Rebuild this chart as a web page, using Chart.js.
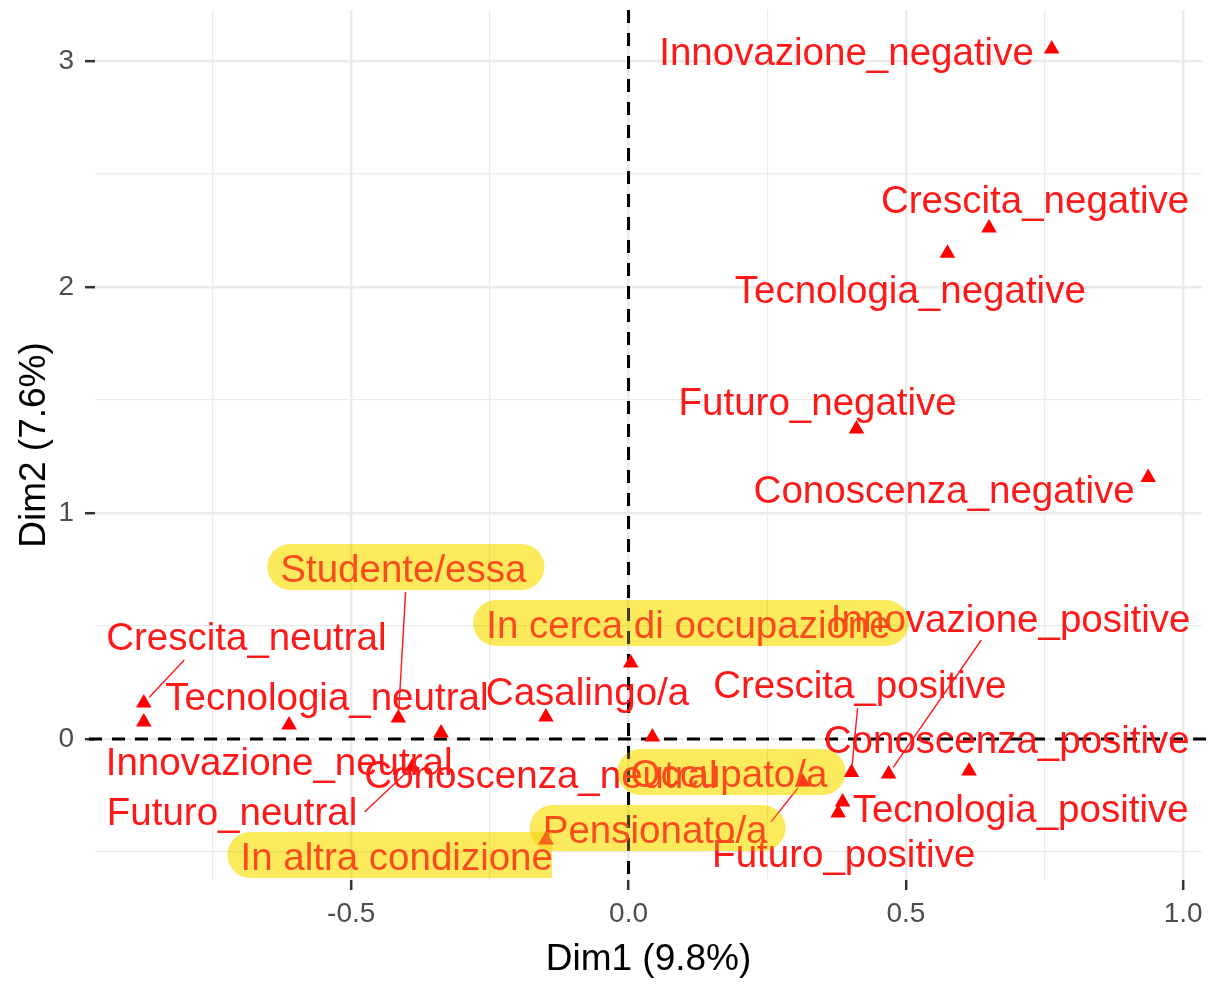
<!DOCTYPE html>
<html>
<head>
<meta charset="utf-8">
<title>MCA - Dim1 / Dim2</title>
<script src="https://cdn.jsdelivr.net/npm/chart.js@4"></script>
<style>
  html, body { margin: 0; padding: 0; background: #ffffff; }
  #wrap { position: relative; width: 1211px; height: 984px; }
</style>
</head>
<body>
<div id="wrap"><canvas id="mcaChart"></canvas></div>
<script>
// --- DATA ---
const categories = [
    'Innovazione_negative', 'Crescita_negative', 'Tecnologia_negative', 'Futuro_negative', 'Conoscenza_negative',
    'Innovazione_positive', 'Crescita_positive', 'Conoscenza_positive', 'Tecnologia_positive', 'Futuro_positive',
    'Crescita_neutral', 'Innovazione_neutral', 'Tecnologia_neutral', 'Conoscenza_neutral', 'Futuro_neutral',
    'Studente/essa', 'In cerca di occupazione', 'Casalingo/a', 'Occupato/a', 'Pensionato/a', 'In altra condizione'
];
const dim1 = [
    0.763, 0.650, 0.575, 0.411, 0.937,
    0.469, 0.402, 0.614, 0.386, 0.378,
    -0.874, -0.874, -0.612, -0.338, -0.390,
    -0.415, 0.004, -0.149, 0.043, 0.314, -0.149
];
const dim2 = [
    3.053, 2.261, 2.150, 1.372, 1.157,
    -0.155, -0.148, -0.142, -0.279, -0.327,
    0.159, 0.075, 0.062, 0.026, -0.124,
    0.093, 0.336, 0.097, 0.009, -0.190, -0.447
];
const xTickValues = [-0.5, 0.0, 0.5, 1.0];
const yTickValues = [0, 1, 2, 3];
const xTitle = 'Dim1 (9.8%)';
const yTitle = 'Dim2 (7.6%)';

// --- LAYOUT (posizione delle etichette, in coordinate dei dati, stile ggrepel) ---
const labelX = [
    0.393, 0.733, 0.508, 0.341, 0.569,
    0.689, 0.417, 0.682, 0.707, 0.388,
    -0.689, -0.630, -0.544, -0.158, -0.715,
    -0.406, 0.108, -0.074, 0.181, 0.048, -0.418
];
const labelY = [
    2.982, 2.327, 1.929, 1.434, 1.044,
    0.473, 0.181, -0.062, -0.367, -0.566,
    0.394, -0.159, 0.128, -0.217, -0.381,
    0.695, 0.447, 0.150, -0.212, -0.460, -0.580
];
// segmenti etichetta -> punto (indice, partenza in coordinate dei dati)
const segments = [
    { i: 10, x: -0.801, y: 0.350 },
    { i: 15, x: -0.402, y: 0.650 },
    { i: 14, x: -0.476, y: -0.323 },
    { i: 5,  x: 0.636,  y: 0.438 },
    { i: 6,  x: 0.413,  y: 0.137 },
    { i: 19, x: 0.257,  y: -0.367 }
];
// etichette evidenziate con il pennarello giallo
const highlighted = ['Studente/essa', 'In cerca di occupazione', 'Occupato/a', 'Pensionato/a', 'In altra condizione'];
const squareRight = ['In altra condizione'];

const RED = 'rgb(255,24,24)';
const LABEL_FONT = '38.5px "Liberation Sans", Arial, sans-serif';

const isMajor = (v, list) => list.some(t => Math.abs(t - v) < 1e-9);

/**
 * Linee tratteggiate sugli assi x=0 e y=0
 */
const zeroLines = {
    id: 'zeroLines',
    beforeDatasetsDraw(chart) {
        const { ctx, chartArea: a, scales: { x, y } } = chart;
        const px = x.getPixelForValue(0);
        const py = y.getPixelForValue(0);
        ctx.save();
        ctx.strokeStyle = '#000000';
        ctx.lineWidth = 3;
        ctx.setLineDash([13, 10]);
        ctx.beginPath();
        ctx.moveTo(a.left - 6, py);
        ctx.lineTo(a.right + 4, py);
        ctx.moveTo(px, a.top);
        ctx.lineTo(px, a.bottom);
        ctx.stroke();
        ctx.restore();
    }
};

function pillPath(ctx, x0, x1, yTop, yBot, square) {
    const r = (yBot - yTop) / 2;
    ctx.beginPath();
    ctx.moveTo(x0 + r, yTop);
    if (square) {
        ctx.lineTo(x1, yTop);
        ctx.lineTo(x1, yBot);
    } else {
        ctx.lineTo(x1 - r, yTop);
        ctx.arc(x1 - r, yTop + r, r, -Math.PI / 2, Math.PI / 2);
    }
    ctx.lineTo(x0 + r, yBot);
    ctx.arc(x0 + r, yTop + r, r, Math.PI / 2, Math.PI * 1.5);
    ctx.closePath();
}

/**
 * Etichette, segmenti e evidenziatore
 */
const textLabels = {
    id: 'textLabels',
    afterDatasetsDraw(chart) {
        const { ctx, scales: { x, y } } = chart;
        ctx.save();

        // segmenti
        ctx.strokeStyle = RED;
        ctx.lineWidth = 1.4;
        segments.forEach(s => {
            const x0 = x.getPixelForValue(s.x), y0 = y.getPixelForValue(s.y);
            const x1 = x.getPixelForValue(dim1[s.i]), y1 = y.getPixelForValue(dim2[s.i]);
            const len = Math.hypot(x1 - x0, y1 - y0);
            const k = Math.max(0, (len - 8) / len);
            ctx.beginPath();
            ctx.moveTo(x0, y0);
            ctx.lineTo(x0 + (x1 - x0) * k, y0 + (y1 - y0) * k);
            ctx.stroke();
        });

        // testo
        ctx.font = LABEL_FONT;
        ctx.fillStyle = RED;
        ctx.textAlign = 'center';
        ctx.textBaseline = 'alphabetic';
        const boxes = [];
        categories.forEach((name, i) => {
            const px = x.getPixelForValue(labelX[i]);
            const py = y.getPixelForValue(labelY[i]);
            ctx.fillText(name, px, py);
            if (highlighted.includes(name)) {
                const w = ctx.measureText(name).width;
                const sq = squareRight.includes(name);
                boxes.push({ x0: px - w / 2 - 13, x1: sq ? px + w / 2 - 1 : px + w / 2 + 18, yTop: py - 38, yBot: py + 8, sq });
            }
        });

        // evidenziatore giallo sopra il testo
        boxes.forEach(b => {
            ctx.globalCompositeOperation = 'multiply';
            ctx.fillStyle = 'rgb(250,234,92)';
            pillPath(ctx, b.x0, b.x1, b.yTop, b.yBot, b.sq);
            ctx.fill();
            ctx.globalCompositeOperation = 'source-over';
            ctx.fillStyle = 'rgba(250,234,92,0.25)';
            pillPath(ctx, b.x0, b.x1, b.yTop, b.yBot, b.sq);
            ctx.fill();
        });
        ctx.restore();
    }
};

function initChart() {
    const ctx = document.getElementById('mcaChart');
    const points = dim1.map((v, i) => ({ x: v, y: dim2[i] }));

    new Chart(ctx, {
        type: 'scatter',
        data: {
            labels: categories,
            datasets: [{
                data: points,
                pointStyle: 'triangle',
                pointRadius: 9,
                pointBorderWidth: 0,
                backgroundColor: 'rgb(255,0,0)',
                borderColor: 'rgb(255,0,0)'
            }]
        },
        options: {
            responsive: true,
            maintainAspectRatio: false,
            animation: false,
            layout: { padding: { top: 10, right: 4, left: 0, bottom: 0 } },
            plugins: { legend: { display: false }, tooltip: { enabled: false } },
            scales: {
                x: {
                    type: 'linear',
                    min: -0.962,
                    max: 1.034,
                    border: { display: false },
                    afterFit: s => { s.height = 104; s.paddingLeft = 0; s.paddingRight = 0; },
                    grid: {
                        color: '#EBEBEB',
                        lineWidth: c => isMajor(c.tick.value, xTickValues) ? 2.4 : 1.2,
                        tickColor: c => isMajor(c.tick.value, xTickValues) ? '#333333' : 'rgba(0,0,0,0)',
                        tickWidth: 2.5,
                        tickLength: 10
                    },
                    ticks: {
                        stepSize: 0.25,
                        includeBounds: false,
                        autoSkip: false,
                        maxRotation: 0,
                        padding: 7,
                        color: '#4D4D4D',
                        font: { family: '"Liberation Sans", Arial, sans-serif', size: 28 },
                        callback: v => isMajor(v, xTickValues) ? v.toFixed(1) : ''
                    },
                    title: {
                        display: true,
                        text: xTitle,
                        color: '#000000',
                        padding: { top: 0, bottom: 2 },
                        font: { family: '"Liberation Sans", Arial, sans-serif', size: 37, lineHeight: 1.2 }
                    }
                },
                y: {
                    type: 'linear',
                    min: -0.624,
                    max: 3.226,
                    border: { display: false },
                    afterFit: s => { s.width = 95; s.paddingTop = 0; s.paddingBottom = 0; },
                    grid: {
                        color: '#EBEBEB',
                        lineWidth: c => isMajor(c.tick.value, yTickValues) ? 2.4 : 1.2,
                        tickColor: c => isMajor(c.tick.value, yTickValues) ? '#333333' : 'rgba(0,0,0,0)',
                        tickWidth: 2.5,
                        tickLength: 10
                    },
                    ticks: {
                        stepSize: 0.5,
                        includeBounds: false,
                        autoSkip: false,
                        padding: 11,
                        color: '#4D4D4D',
                        font: { family: '"Liberation Sans", Arial, sans-serif', size: 28 },
                        callback: v => isMajor(v, yTickValues) ? String(v) : ''
                    },
                    title: {
                        display: true,
                        text: yTitle,
                        color: '#000000',
                        padding: { top: 13, bottom: 0 },
                        font: { family: '"Liberation Sans", Arial, sans-serif', size: 37, lineHeight: 1.2 }
                    }
                }
            }
        },
        plugins: [zeroLines, textLabels]
    });
}

document.addEventListener('DOMContentLoaded', initChart);
</script>
</body>
</html>
